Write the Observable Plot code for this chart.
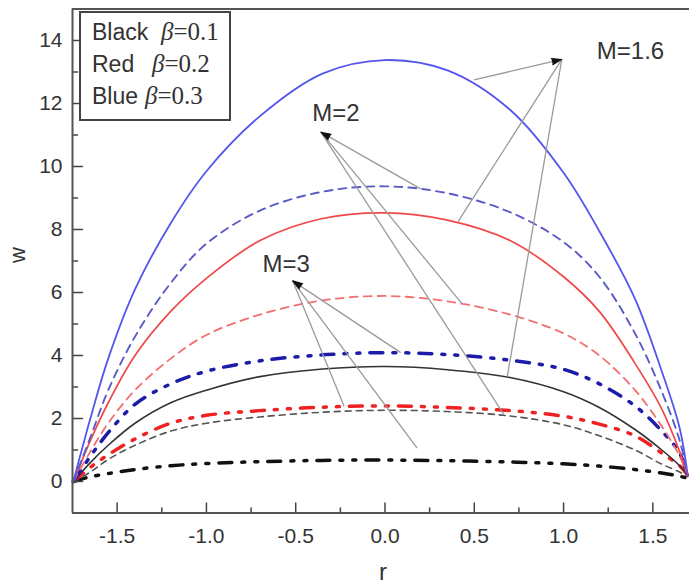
<!DOCTYPE html>
<html><head><meta charset="utf-8">
<script src="https://cdn.jsdelivr.net/npm/d3@7"></script>
<script src="https://cdn.jsdelivr.net/npm/@observablehq/plot@0.6"></script>
<style>body{margin:0;background:#fff}</style>
</head><body><div id="chart"></div>
<script>
// ---- data ----
const rGrid = [-1.745,-1.65,-1.55,-1.4,-1.2,-1.0,-0.7,-0.35,0,0.35,0.7,1.0,1.2,1.4,1.55,1.65,1.695];
const wB16 = [0,2.0,3.9,6.1,8.2,9.85,11.6,12.95,13.38,13.05,11.8,9.8,7.95,5.8,3.5,1.7,0.2];   // blue solid  (β=0.3, M=1.6)
const wB2  = [0,1.4,2.9,4.6,6.3,7.55,8.6,9.2,9.37,9.15,8.55,7.6,6.5,4.7,2.85,1.3,0.2];      // blue dashed (β=0.3, M=2)
const wR16 = [0,1.3,2.5,4.0,5.4,6.45,7.65,8.35,8.53,8.3,7.65,6.5,5.4,3.75,2.3,0.95,0.2];   // red solid   (β=0.2, M=1.6)
const wR2  = [0,0.95,1.85,2.9,3.9,4.65,5.3,5.75,5.89,5.72,5.3,4.7,4.0,2.9,1.75,0.8,0.2];   // red dashed  (β=0.2, M=2)
const wB3  = [0,0.8,1.55,2.45,3.1,3.5,3.83,4.02,4.09,4.03,3.85,3.56,3.1,2.4,1.6,0.9,0.2];   // blue dash-dot-dot (β=0.3, M=3)
const wK16 = [0,0.6,1.15,1.85,2.5,2.9,3.33,3.57,3.65,3.55,3.3,2.85,2.35,1.65,1.0,0.5,0.2]; // black solid (β=0.1, M=1.6)
const wR3  = [0,0.45,0.85,1.35,1.85,2.1,2.25,2.36,2.4,2.35,2.25,2.07,1.82,1.45,0.9,0.5,0.2]; // red dash-dot-dot (β=0.2, M=3)
const wK2  = [0,0.3,0.7,1.15,1.6,1.85,2.05,2.2,2.26,2.22,2.08,1.8,1.45,1.0,0.55,0.3,0.15]; // black dashed (β=0.1, M=2)
const wK3  = [0,0.15,0.25,0.38,0.5,0.57,0.63,0.67,0.68,0.66,0.62,0.56,0.49,0.38,0.27,0.17,0.1]; // black dash-dot-dot (β=0.1, M=3)

const xTicks = [-1.5,-1.0,-0.5,0.0,0.5,1.0,1.5];
const xMinor = [-1.25,-0.75,-0.25,0.25,0.75,1.25];
const yTicks = [0,2,4,6,8,10,12,14];
const yMinor = [-1,1,3,5,7,9,11,13];

const labelText = ["M=1.6","M=2","M=3"];
const labelR = [1.375,-0.275,-0.553];
const labelW = [13.66,11.69,6.91];
const tipR = [0.99,-0.359,-0.517];
const tipW = [13.4,11.09,6.37];
// arrow ends on the curves, per label
const endR = [[0.498,0.409,0.685],[0.2,0.433,0.666],[0.088,-0.229,0.18]];
const endW = [[12.75,8.25,3.34],[9.29,5.63,2.12],[4.09,2.39,1.06]];

const legendNames = ["Black","Red","Blue"];
const legendBeta = ["0.1","0.2","0.3"];

// ---- styles ----
const series = [
  {w:wK3,stroke:"#111",sw:3.5,dash:"13,10,3,10,3,10"},
  {w:wK2,stroke:"#555",sw:1.6,dash:"6,5"},
  {w:wR3,stroke:"#ee2222",sw:3.5,dash:"13,10,3,10,3,10"},
  {w:wK16,stroke:"#333",sw:1.6,dash:null},
  {w:wB3,stroke:"#1c1ca8",sw:3.5,dash:"13,10,3,10,3,10"},
  {w:wR2,stroke:"#f07070",sw:1.8,dash:"8,6"},
  {w:wR16,stroke:"#f04848",sw:1.7,dash:null},
  {w:wB2,stroke:"#5b5bc8",sw:1.9,dash:"8,6"},
  {w:wB16,stroke:"#5555ee",sw:1.8,dash:null}
];

const xDomain=[-1.75,1.75], xRange=[72,697];
const yDomain=[-1,15], yRange=[512.5,8.5];
const kx=(xRange[1]-xRange[0])/(xDomain[1]-xDomain[0]);
const ky=(yRange[0]-yRange[1])/(yDomain[1]-yDomain[0]);

const lineMarks = series.map(s => Plot.line(rGrid.map((r,i)=>({r, w:s.w[i]})), {
  x:"r", y:"w", stroke:s.stroke, strokeWidth:s.sw, strokeDasharray:s.dash, curve:"catmull-rom"}));

const links=[]; const heads=[];
labelText.forEach((t,i)=>{
  endR[i].forEach((er,j)=>links.push({x1:tipR[i],y1:tipW[i],x2:er,y2:endW[i][j]}));
  const px=(tipR[i]-endR[i][0])*kx, py=-(tipW[i]-endW[i][0])*ky;
  heads.push({x:tipR[i],y:tipW[i],rot:Math.atan2(px,-py)*180/Math.PI});
});
const labels = labelText.map((t,i)=>({t,x:labelR[i],y:labelW[i]}));

const tickShape = {draw(ctx,l){ctx.moveTo(0,0);ctx.lineTo(0,-l);}};

const plot = Plot.plot({
  width:689, height:588, marginLeft:72, marginRight:0, marginTop:8.5, marginBottom:75.5,
  style:{fontFamily:"'Liberation Sans', Arial, sans-serif", color:"#333", background:"#fff"},
  x:{domain:xDomain, range:xRange},
  y:{domain:yDomain, range:yRange},
  marks:[
    ...lineMarks,
    Plot.link(links,{x1:"x1",y1:"y1",x2:"x2",y2:"y2",stroke:"#9a9a9a",strokeWidth:1.3}),
    Plot.vector(heads,{x:"x",y:"y",rotate:"rot",length:10,r:3.2,anchor:"end",shape:"spike",fill:"#111",stroke:"#111",strokeWidth:1}),
    Plot.text(labels,{x:"x",y:"y",text:"t",fontSize:24,fill:"#333"}),
    Plot.vector(xTicks,{x:d=>d,y:()=>yDomain[0],length:10,rotate:0,anchor:"start",shape:tickShape,stroke:"#444",strokeWidth:1.5}),
    Plot.vector(xMinor,{x:d=>d,y:()=>yDomain[0],length:5,rotate:0,anchor:"start",shape:tickShape,stroke:"#444",strokeWidth:1.5}),
    Plot.vector(yTicks,{y:d=>d,x:()=>xDomain[0],length:10,rotate:90,anchor:"start",shape:tickShape,stroke:"#444",strokeWidth:1.5}),
    Plot.vector(yMinor,{y:d=>d,x:()=>xDomain[0],length:5,rotate:90,anchor:"start",shape:tickShape,stroke:"#444",strokeWidth:1.5}),
    Plot.ruleX([xDomain[0]],{stroke:"#555",strokeWidth:2}),
    Plot.ruleY([yDomain[0],yDomain[1]],{stroke:"#555",strokeWidth:2}),
    Plot.axisX({ticks:xTicks,tickSize:0,tickPadding:15,tickFormat:d=>d.toFixed(1),fontSize:21,label:null}),
    Plot.axisY({ticks:yTicks,tickSize:0,tickPadding:10,tickFormat:d=>String(d),fontSize:21,label:null})
  ]
});
document.getElementById("chart").appendChild(plot);

// axis titles and the β legend box
const svg = d3.select(plot);
svg.append("text").attr("x",383).attr("y",580).attr("text-anchor","middle")
  .attr("font-size",24).attr("fill","#333").text("r");
svg.append("text").attr("transform","translate(25,255) rotate(-90)").attr("text-anchor","middle")
  .attr("font-size",22).attr("fill","#333").text("w");
const lg = svg.append("g").attr("text-anchor","start");
lg.append("rect").attr("x",80).attr("y",12).attr("width",150).attr("height",108)
  .attr("fill","#fff").attr("stroke","#444").attr("stroke-width",2);
const betaX=[161,152,145], baseY=[40,72,104];
legendNames.forEach((n,i)=>{
  const t = lg.append("text").attr("y",baseY[i]).attr("fill","#333").attr("font-size",23).attr("text-anchor","start");
  t.append("tspan").attr("x",92).text(n);
  t.append("tspan").attr("x",betaX[i]).attr("font-family","'Liberation Serif', 'Times New Roman', serif").attr("font-style","italic").attr("font-size",25).text("β");
  t.append("tspan").attr("font-family","'Liberation Serif', 'Times New Roman', serif").attr("font-size",25).text("="+legendBeta[i]);
});
</script>
</body></html>
